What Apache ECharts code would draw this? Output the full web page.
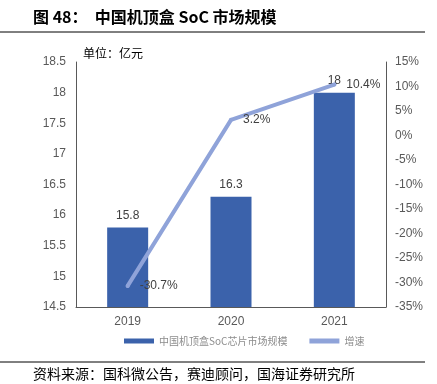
<!DOCTYPE html>
<html><head><meta charset="utf-8">
<script src="https://cdn.jsdelivr.net/npm/echarts@6/dist/echarts.min.js"></script>
<style>html,body{margin:0;padding:0;background:#fff}#c{width:437px;height:384px}</style>
</head><body><div id="c"></div>
<script>
const categories = ['2019', '2020', '2021'];
const marketSize = [15.8, 16.3, 18];
const growth = [-30.7, 3.2, 10.4];
const leftTicks = [14.5, 18.5, 0.5];
const rightTicks = [-35, 15, 5];

const chart = echarts.init(document.getElementById('c'), null, {renderer: 'canvas'});
const labelFont = '"Liberation Sans", Arial, sans-serif';
const cjk = '"Noto Sans CJK SC", sans-serif';
chart.setOption({
  animation: false,
  grid: {left: 76, right: 51, top: 62, bottom: 77, containLabel: false},
  xAxis: {
    type: 'category', data: categories,
    axisLine: {onZero: false, lineStyle: {color: '#595959', width: 1}},
    axisTick: {show: false},
    axisLabel: {color: '#595959', fontSize: 12, fontFamily: labelFont, margin: 9}
  },
  yAxis: [{
    type: 'value', min: leftTicks[0], max: leftTicks[1], interval: leftTicks[2],
    axisLine: {show: true, lineStyle: {color: '#595959', width: 1}},
    axisTick: {show: false}, splitLine: {show: false},
    axisLabel: {color: '#595959', fontSize: 12, fontFamily: labelFont, margin: 10}
  }, {
    type: 'value', min: rightTicks[0], max: rightTicks[1], interval: rightTicks[2],
    position: 'right',
    axisLine: {show: true, lineStyle: {color: '#595959', width: 1}},
    axisTick: {show: false}, splitLine: {show: false},
    axisLabel: {color: '#595959', fontSize: 12, fontFamily: labelFont, margin: 9, formatter: '{value}%'}
  }],
  legend: {
    bottom: 33, left: 119, itemGap: 22, itemWidth: 30, itemHeight: 5,
    textStyle: {color: '#8c8c8c', fontSize: 10, fontFamily: cjk},
    data: [
      {name: '中国机顶盒SoC芯片市场规模', icon: 'rect'},
      {name: '增速', icon: 'path://M0,0 L30,0 L30,5 L0,5 Z', itemStyle: {color: '#8FA3D9'}}
    ]
  },
  series: [{
    name: '中国机顶盒SoC芯片市场规模', type: 'bar', data: marketSize, barWidth: 41,
    itemStyle: {color: '#3B62AB'},
    label: {show: true, position: 'top', color: '#404040', fontSize: 12, fontFamily: labelFont, distance: 6}
  }, {
    name: '增速', type: 'line', yAxisIndex: 1, data: growth,
    symbol: 'circle', symbolSize: 4, showSymbol: true,
    lineStyle: {color: '#8FA3D9', width: 4, cap: 'round'},
    itemStyle: {color: '#8FA3D9'},
    label: {show: true, position: 'right', distance: 10, offset: [0, 1], color: '#404040', fontSize: 12, fontFamily: labelFont, formatter: p => p.value + '%'},
    labelLayout: {hideOverlap: false},
    z: 3
  }],
  graphic: [
    {type: 'text', left: 33, top: 9, style: {text: '图 48：  中国机顶盒 SoC 市场规模', font: 'bold 16px "Noto Sans CJK SC", sans-serif', fill: '#000'}},
    {type: 'line', shape: {x1: 0, y1: 32, x2: 425, y2: 32}, style: {stroke: '#000', lineWidth: 1}},
    {type: 'text', left: 83, top: 47, style: {text: '单位：亿元', font: '12px "Noto Sans CJK SC", sans-serif', fill: '#000'}},
    {type: 'line', shape: {x1: 0, y1: 362, x2: 425, y2: 362}, style: {stroke: '#000', lineWidth: 1}},
    {type: 'text', left: 33, top: 367, style: {text: '资料来源：国科微公告，赛迪顾问，国海证券研究所', font: '14px "Noto Sans CJK SC", sans-serif', fill: '#000'}}
  ]
});
</script></body></html>
